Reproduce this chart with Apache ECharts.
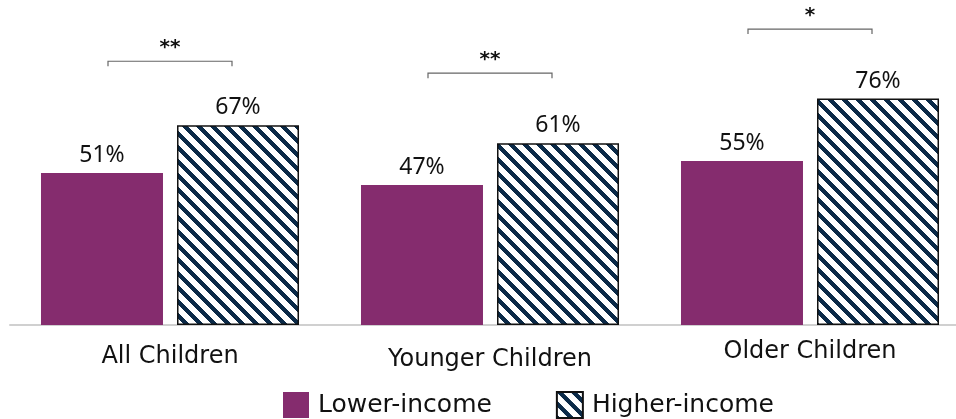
<!DOCTYPE html>
<html>
<head>
<meta charset="utf-8">
<script src="https://cdn.jsdelivr.net/npm/echarts@6/dist/echarts.min.js"></script>
<style>
  html, body { margin: 0; padding: 0; background: #fff; }
  #chart { width: 956px; height: 419px; }
</style>
</head>
<body>
<div id="chart"></div>
<script>
const categories = ['All Children', 'Younger Children', 'Older Children'];
const lowerIncome = [51, 47, 55];
const higherIncome = [67, 61, 76];
// significance brackets: [category index, bracket height (%), stars]
const brackets = [[0, 88.5, '**'], [1, 84.5, '**'], [2, 99.3, '*']];

const WIDE = '"DejaVu Sans", sans-serif';
const FONT = '"Noto Sans", sans-serif';

// diagonal stripe tile for the higher-income bars, drawn pixel by pixel so it tiles cleanly
function stripeTile() {
    const s = 14, w = 6;
    const c = document.createElement('canvas');
    c.width = s; c.height = s;
    const ctx = c.getContext('2d');
    const img = ctx.createImageData(s, s);
    for (let y = 0; y < s; y++) {
        for (let x = 0; x < s; x++) {
            const d = (((x - y) % s) + s) % s;
            const dark = d < w;
            const i = (y * s + x) * 4;
            img.data[i] = dark ? 11 : 255;
            img.data[i + 1] = dark ? 42 : 255;
            img.data[i + 2] = dark ? 72 : 255;
            img.data[i + 3] = 255;
        }
    }
    ctx.putImageData(img, 0, 0);
    return c;
}

const chart = echarts.init(document.getElementById('chart'));

const option = {
    animation: false,
    grid: { left: 10, width: 960, top: 27, bottom: 94, outerBoundsMode: 'none', containLabel: false },
    legend: {
        data: ['Lower-income', 'Higher-income'],
        bottom: -5,
        left: 278,
        itemWidth: 26,
        itemHeight: 26,
        itemGap: 64,
        icon: 'rect',
        textStyle: { fontFamily: WIDE, fontSize: 25, color: '#111', padding: [0, 0, 0, 4] }
    },
    xAxis: {
        type: 'category',
        data: [
            { value: categories[0], textStyle: { padding: [5, 0, 0, 0] } },
            { value: categories[1], textStyle: { padding: [8, 0, 0, 0] } },
            { value: categories[2], textStyle: { padding: [0, 0, 0, 0] } }
        ],
        axisLine: { show: true, lineStyle: { color: '#d0d0d0', width: 2 } },
        axisTick: { show: false },
        axisLabel: { margin: 15, fontFamily: WIDE, fontSize: 24, color: '#111' }
    },
    yAxis: {
        type: 'value', min: 0, max: 100, show: false,
        splitLine: { show: false }
    },
    series: [
        {
            name: 'Lower-income',
            type: 'bar',
            data: lowerIncome,
            barWidth: 122,
            barGap: '11.5%',
            itemStyle: { color: '#852C6E' },
            label: {
                show: true, position: 'top', distance: 6,
                formatter: '{c}%', fontFamily: FONT, fontSize: 23, color: '#111'
            }
        },
        {
            name: 'Higher-income',
            type: 'bar',
            data: higherIncome,
            barWidth: 122,
            itemStyle: {
                color: { image: stripeTile(), repeat: 'repeat' },
                borderColor: '#111',
                borderWidth: 1.5
            },
            label: {
                show: true, position: 'top', distance: 6,
                formatter: '{c}%', fontFamily: FONT, fontSize: 23, color: '#111'
            }
        },
        {
            name: 'sig',
            type: 'custom',
            data: brackets,
            z: 10,
            renderItem: function (params, api) {
                const p = api.coord([api.value(0), api.value(1)]);
                const half = 62;
                return {
                    type: 'group',
                    children: [
                        {
                            type: 'polyline',
                            shape: { points: [[p[0] - half, p[1] + 5], [p[0] - half, p[1]], [p[0] + half, p[1]], [p[0] + half, p[1] + 5]] },
                            style: { stroke: '#666', lineWidth: 1.2, fill: null }
                        },
                        {
                            type: 'text',
                            x: p[0], y: p[1] - 13,
                            style: {
                                text: brackets[params.dataIndex][2],
                                fill: '#111', fontFamily: WIDE, fontSize: 20, fontWeight: 'bold',
                                align: 'center', verticalAlign: 'middle'
                            }
                        }
                    ]
                };
            }
        }
    ]
};

chart.setOption(option);
</script>
</body>
</html>
